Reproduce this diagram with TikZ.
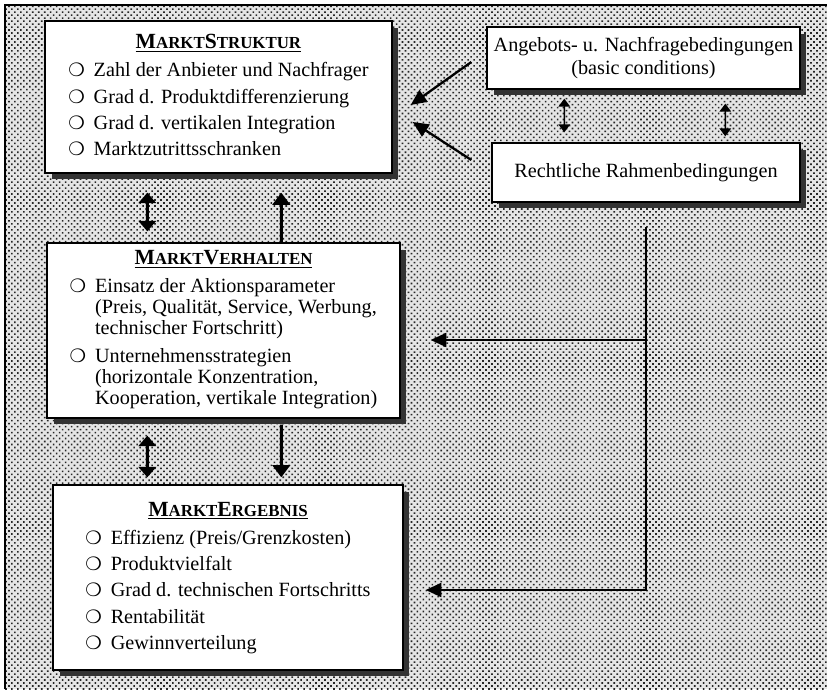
\documentclass[tikz,border=0pt]{standalone}
\usepackage{fontspec}
\setmainfont{Liberation Serif}
\newfontfamily\dingfont{DejaVu Sans}
\usetikzlibrary{arrows.meta, shadows, patterns.meta, positioning}
\newcommand{\bul}{{\dingfont\fontsize{10.5}{10.5}\selectfont ❍}}
\newcommand{\fsc}[1]{{\fontsize{9.6}{9.6}\selectfont\MakeUppercase{#1}}}
\newcommand{\boxtitle}[2]{\underline{\fontsize{12.3}{14}\selectfont\textbf{M\fsc{arkt}#1\fsc{#2}}}}
\tikzset{
  every picture/.style={line width=1pt},
  panel/.style={draw=black, line width=0.8pt, fill=white, inner sep=0pt,
    drop shadow={shadow xshift=0.13cm, shadow yshift=-0.13cm, fill=black!80, opacity=1},
    font=\fontsize{11.5}{15}\selectfont},
  side/.style={panel, align=center, font=\fontsize{11.5}{12.8}\selectfont},
  bigarrow/.style={-{Triangle[length=7pt, width=10pt]}, line width=1.7pt},
  twoway/.style={{Triangle[length=6pt, width=10pt]}-{Triangle[length=6pt, width=10pt]}, line width=1.7pt},
  thinway/.style={{Triangle[length=4.5pt, width=6.5pt]}-{Triangle[length=4.5pt, width=6.5pt]}, line width=0.9pt},
  feed/.style={-{Triangle[length=9pt, width=8pt]}, line width=1.3pt},
  halftone/.style={pattern={Dots[distance=2.4pt, angle=45, radius=0.65pt]}, pattern color=black!85},
}

\begin{document}
\begin{tikzpicture}[x=0.02cm, y=-0.02cm]
  \useasboundingbox (0,0) rectangle (827,689);
  % background
  \fill[black!10] (5,5) rectangle (827,689);
  \fill[halftone] (5,5) rectangle (827,689);
  \draw[line width=1.2pt] (5,689) -- (5,5) -- (827,5);

  % left column
  \node[panel, minimum width=6.94cm, minimum height=3.04cm] (struktur) at (218.5,97) {%
    \begin{tabular}{@{}l@{\hspace{5pt}}l@{}}
      \multicolumn{2}{c}{\boxtitle{S}{truktur}}\\[1pt]
      \bul & Zahl der Anbieter und Nachfrager\\
      \bul & Grad d. Produktdifferenzierung\\
      \bul & Grad d. vertikalen Integration\\
      \bul & Marktzutrittsschranken
    \end{tabular}};
  \node[panel, minimum width=7.06cm, minimum height=3.5cm, font=\fontsize{11.5}{12}\selectfont] (verhalten) at (223.5,330.5) {%
    \begin{tabular}{@{}l@{\hspace{5pt}}l@{}}
      \multicolumn{2}{c}{\boxtitle{V}{erhalten}}\\[4pt]
      \bul & Einsatz der Aktionsparameter\\
           & (Preis, Qualität, Service, Werbung,\\
           & technischer Fortschritt)\\[4pt]
      \bul & Unternehmensstrategien\\
           & (horizontale Konzentration,\\
           & Kooperation, vertikale Integration)
    \end{tabular}};
  \node[panel, minimum width=7cm, minimum height=3.7cm] (ergebnis) at (228,577.5) {%
    \begin{tabular}{@{}l@{\hspace{5pt}}l@{}}
      \multicolumn{2}{c}{\boxtitle{E}{rgebnis}}\\[1pt]
      \bul & Effizienz (Preis/Grenzkosten)\\
      \bul & Produktvielfalt\\
      \bul & Grad d. technischen Fortschritts\\
      \bul & Rentabilität\\
      \bul & Gewinnverteilung
    \end{tabular}};

  % right column
  \node[side, minimum width=6.26cm, minimum height=1.24cm] (angebot) at (643.5,58)
    {Angebots- u. Nachfragebedingungen\\(basic conditions)};
  \node[side, minimum width=6.16cm, minimum height=1.18cm] (recht) at (646,172.5)
    {Rechtliche Rahmenbedingungen};

  % links between the market boxes
  \draw[twoway] ([xshift=2.06cm, yshift=-0.38cm]struktur.south west) -- ([xshift=2.02cm, yshift=0.22cm]verhalten.north west);
  \draw[bigarrow] ([xshift=4.7cm]verhalten.north west) -- ([xshift=4.74cm, yshift=-0.38cm]struktur.south west);
  \draw[twoway] ([xshift=2.02cm, yshift=-0.34cm]verhalten.south west) -- ([xshift=1.9cm, yshift=0.14cm]ergebnis.north west);
  \draw[bigarrow] ([xshift=4.7cm, yshift=-0.12cm]verhalten.south west) -- ([xshift=4.58cm, yshift=0.14cm]ergebnis.north west);

  % conditions
  \draw[feed] ([xshift=-0.3cm, yshift=-0.08cm]angebot.west) -- ([xshift=0.36cm, yshift=-0.16cm]struktur.east);
  \draw[feed] ([xshift=-0.4cm, yshift=0.25cm]recht.west) -- ([xshift=0.4cm, yshift=-0.5cm]struktur.east);
  \draw[thinway] ([xshift=1.56cm, yshift=-0.18cm]angebot.south west) -- ([xshift=1.46cm, yshift=0.2cm]recht.north west);
  \draw[thinway] ([xshift=4.78cm, yshift=-0.28cm]angebot.south west) -- ([xshift=4.68cm, yshift=0.12cm]recht.north west);

  % legal frame to behaviour and result
  \coordinate (vtip) at ([xshift=0.6cm, yshift=-0.19cm]verhalten.east);
  \coordinate (etip) at ([xshift=0.44cm, yshift=-0.25cm]ergebnis.east);
  \draw[feed] ([yshift=-0.48cm]recht.south) |- (etip);
  \draw[feed] (vtip -| recht.south) -- (vtip);
\end{tikzpicture}
\end{document}
